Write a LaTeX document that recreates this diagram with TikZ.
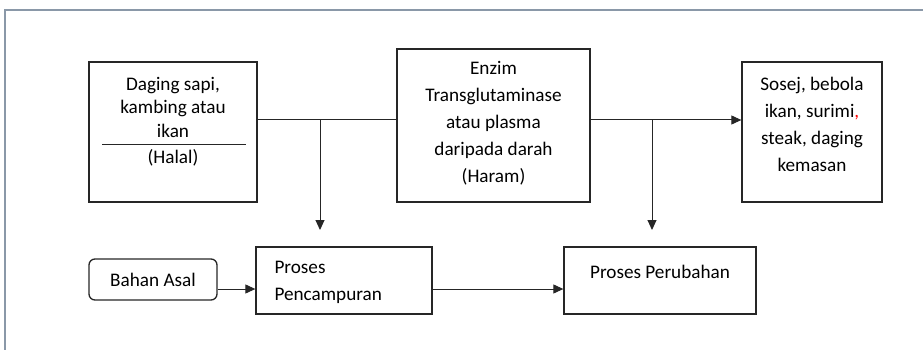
\documentclass[tikz,border=0pt]{standalone}
\usepackage{fontspec}
\setmainfont{Carlito}
\usetikzlibrary{arrows.meta}

\begin{document}
\begin{tikzpicture} [x=1pt, y=-1pt, font=\fontsize{19.2}{27}\selectfont,
  box/.style={draw=black!85, line width=1.3pt, inner sep=0pt},
  conn/.style={black!85, line width=1pt},
  arr/.style={conn, -{Triangle[length=10pt,width=9pt]}}]

\useasboundingbox (0,0) rectangle (923,350);
\draw[color={rgb,255:red,138;green,152;blue,168}, line width=2pt] (5,350) -- (5,10) -- (923,10);

\node[box, minimum width=168, minimum height=140] (daging) at (173,132) {};
\node[align=center, font=\fontsize{19.2}{23.5}\selectfont] (dagingtxt) at (173,107) {Daging sapi,\\kambing atau\\ikan};
\draw[conn] (102,144) -- (246,144);
\node (halal) at (173,158) {(Halal)};

\node[box, minimum width=193, minimum height=153] (enzim) at (493.5,125.5) {};
\node[align=center] (enzimtxt) at (493.5,123) {Enzim\\Transglutaminase\\atau plasma\\daripada darah\\(Haram)};

\node[box, minimum width=140, minimum height=140] (sosej) at (812,132) {};
\node[align=center] (sosejtxt) at (812,124) {Sosej, bebola\\ikan, surimi{\color{red},}\\steak, daging\\kemasan};

\node[box, rounded corners=6pt, minimum width=128, minimum height=41] (bahan) at (153,279.5) {Bahan Asal};
\node[box, minimum width=176, minimum height=67] (campur) at (344,280.5) {};
\node[align=left, anchor=west] (campurtxt) at (271,282) {Proses\\Pencampuran};
\node[box, minimum width=192, minimum height=67] (ubah) at (660,280.5) {};
\node (ubahtxt) at (660,272) {Proses Perubahan};

\coordinate (j1) at (320,120);
\coordinate (t1) at (320,230);
\coordinate (j2) at (652,120);
\coordinate (t2) at (652,230);
\coordinate (j3) at (0,289);

\draw[conn] (daging.east |- j1) -- (enzim.west |- j1);
\draw[arr] (j1) -- (t1);
\draw[arr] (enzim.east |- j2) -- (sosej.west |- j2);
\draw[arr] (j2) -- (t2);
\draw[arr] (bahan.east |- j3) -- (campur.west |- j3);
\draw[arr] (campur.east |- j3) -- (ubah.west |- j3);

\end{tikzpicture}
\end{document}
